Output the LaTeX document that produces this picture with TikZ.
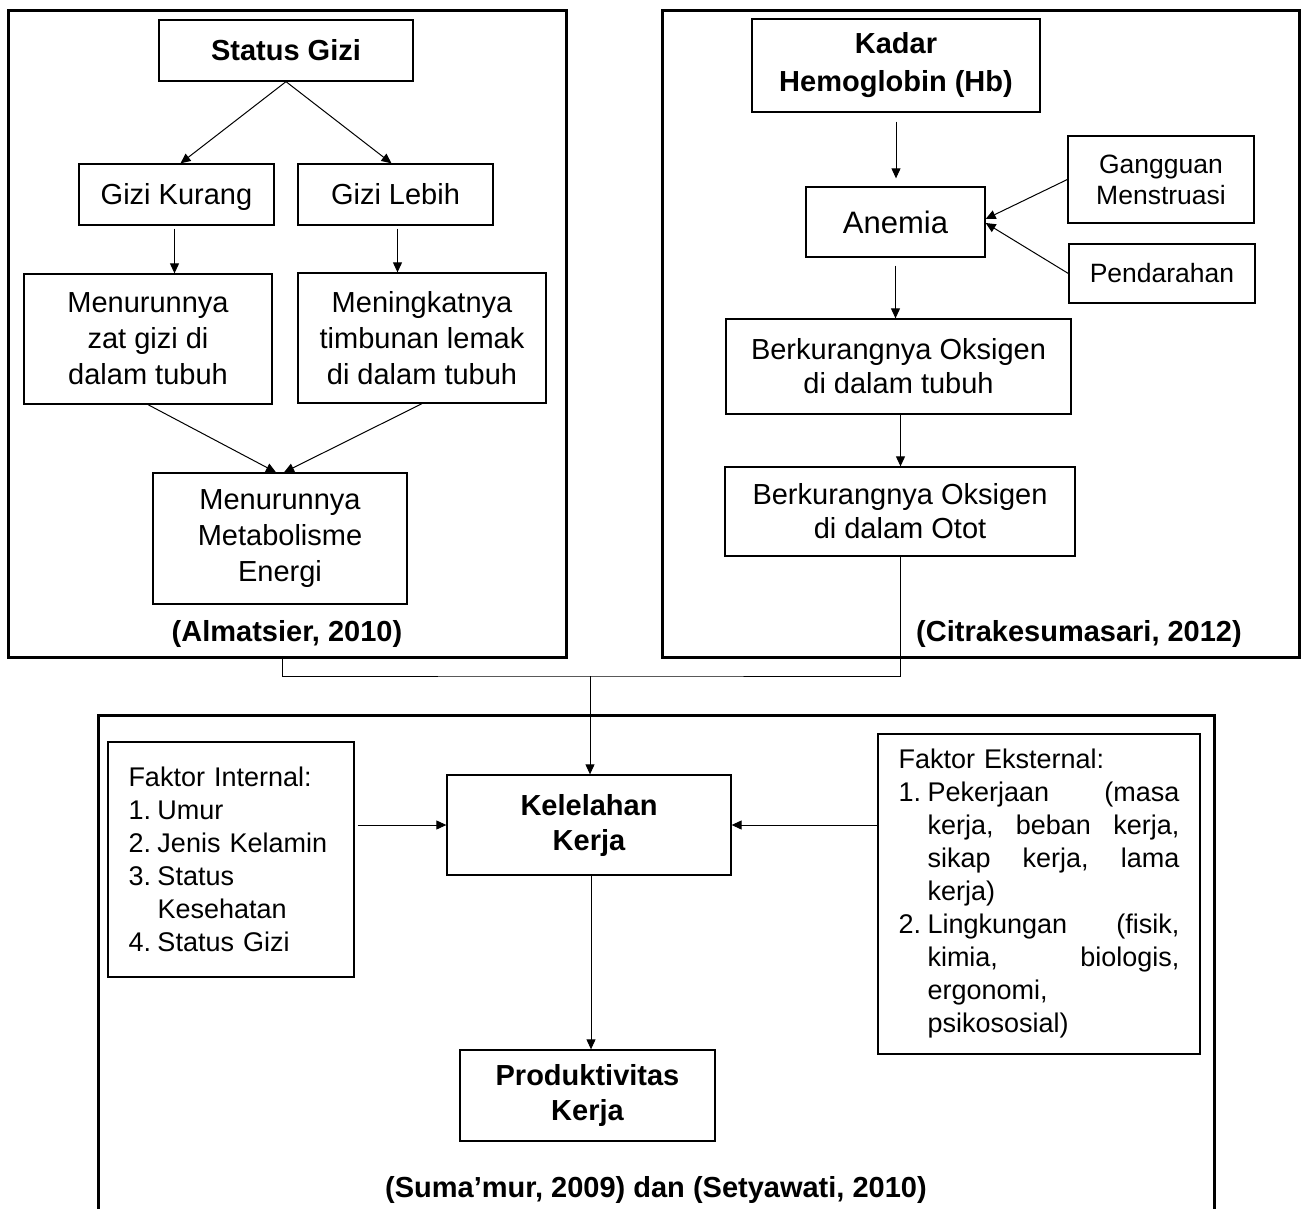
\documentclass[tikz,border=0pt]{standalone}
\usepackage{fontspec}
\setmainfont{Liberation Sans}
\usepackage{tikz}
\usetikzlibrary{arrows.meta,positioning,calc}
\newcommand{\nomor}[1]{\makebox[14.5pt][l]{#1}}
\newcommand{\rata}[1]{\makebox[126pt][s]{#1}}

\begin{document}
\begin{tikzpicture}[x=0.5pt,y=-0.5pt,
  frame/.style={draw,line width=1.5pt,inner sep=0pt},
  box/.style={draw,line width=0.65pt,align=center,inner sep=0pt,font=\fontsize{14.5}{17.5}\selectfont},
  bbox/.style={box,font=\bfseries\fontsize{14.5}{18.5}\selectfont},
  sbox/.style={box,font=\fontsize{13.25}{15.5}\selectfont},
  listbox/.style={draw,line width=0.65pt,align=left,inner xsep=10.25pt,inner ysep=0pt,font=\fontsize{13.5}{16.5}\selectfont},
  cite/.style={font=\bfseries\fontsize{14.5}{17.5}\selectfont,inner sep=0pt},
  arrow/.style={-{Triangle[length=5pt,width=4.5pt]},line width=0.5pt}
]
\useasboundingbox (0,0) rectangle (1302,1209);
% frames
\node[frame,minimum width=279pt,minimum height=323pt] (kiri) at (287,334) {};
\node[frame,minimum width=318.5pt,minimum height=323pt] (kanan) at (980.5,334) {};
\node[frame,minimum width=558pt,minimum height=257.5pt] (bawah) at (656,972.5) {};
% left: status gizi
\node[bbox,minimum width=127pt,minimum height=30.5pt] (gizi) at (286,50.5) {Status Gizi};
\node[box,minimum width=97.5pt,minimum height=30.5pt,text height=12pt,text depth=1.6pt] (kurang) at (176.5,194.5) {Gizi Kurang};
\node[box,minimum width=97.5pt,minimum height=30.5pt,text height=12pt,text depth=1.6pt] (lebih) at (395.5,194.5) {Gizi Lebih};
\node[box,minimum width=124pt,minimum height=65pt,font=\fontsize{14.5}{18}\selectfont] (turunzat) at (148,339) {Menurunnya\\zat gizi di\\dalam tubuh};
\node[box,minimum width=124pt,minimum height=65pt,font=\fontsize{14.5}{18}\selectfont] (naiklemak) at (422,338) {Meningkatnya\\timbunan lemak\\di dalam tubuh};
\node[box,minimum width=127pt,minimum height=65.5pt,font=\fontsize{14.5}{18}\selectfont] (metabolisme) at (280,538.5) {Menurunnya\\Metabolisme\\Energi};
\node[cite] (almatsier) at (287,634) {(Almatsier, 2010)};
% right: hemoglobin
\node[bbox,minimum width=144pt,minimum height=46.5pt,font=\bfseries\fontsize{14.5}{19}\selectfont] (hb) at (896,65.5) {Kadar\\Hemoglobin (Hb)};
\node[box,minimum width=89.5pt,minimum height=35pt,font=\fontsize{15.5}{18}\selectfont] (anemia) at (895.5,222) {Anemia};
\node[sbox,minimum width=93pt,minimum height=43.5pt] (gangguan) at (1161,179.5) {Gangguan\\Menstruasi};
\node[sbox,minimum width=93pt,minimum height=29.5pt] (darah) at (1162,273.5) {Pendarahan};
\node[box,minimum width=172.5pt,minimum height=47.5pt,font=\fontsize{14.5}{17}\selectfont] (oksigentubuh) at (898.5,366.5) {Berkurangnya Oksigen\\di dalam tubuh};
\node[box,minimum width=175pt,minimum height=44.5pt,font=\fontsize{14.5}{17}\selectfont] (oksigenotot) at (900,511.5) {Berkurangnya Oksigen\\di dalam Otot};
\node[cite] (citra) at (1079,634) {(Citrakesumasari, 2012)};
% bottom: kelelahan kerja
\node[listbox,text width=102.5pt,minimum height=117.5pt] (internal) at (231,859.5) {Faktor Internal:\\
\nomor{1.}Umur\\
\nomor{2.}Jenis Kelamin\\
\nomor{3.}Status\\
\nomor{}Kesehatan\\
\nomor{4.}Status Gizi};
\node[bbox,minimum width=142pt,minimum height=50pt,font=\bfseries\fontsize{14.5}{17.5}\selectfont] (lelah) at (589,825) {Kelelahan\\Kerja};
\node[listbox,text width=140.5pt,minimum height=160pt] (eksternal) at (1039,894) {Faktor Eksternal:\\
\nomor{1.}\rata{Pekerjaan\hfill(masa}\\
\nomor{}\rata{kerja,\hfill beban\hfill kerja,}\\
\nomor{}\rata{sikap\hfill kerja,\hfill lama}\\
\nomor{}kerja)\\
\nomor{2.}\rata{Lingkungan\hfill(fisik,}\\
\nomor{}\rata{kimia,\hfill biologis,}\\
\nomor{}ergonomi,\\
\nomor{}psikososial)};
\node[bbox,minimum width=127.5pt,minimum height=45.5pt,font=\bfseries\fontsize{14.5}{17.5}\selectfont] (produktif) at (587.5,1095.5) {Produktivitas\\Kerja};
\node[cite] (sumamur) at (656,1190) {(Suma’mur, 2009) dan (Setyawati, 2010)};
% arrows
\draw[arrow] (gizi.south) -- ([xshift=2pt]kurang.north);
\draw[arrow] (gizi.south) -- ([xshift=-2pt]lebih.north);
\draw[arrow,shorten <=1.5pt] ([xshift=-1pt]kurang.south) -- ([xshift=-1pt]kurang.south |- turunzat.north);
\draw[arrow,shorten <=1.5pt] ([xshift=1pt]lebih.south) -- ([xshift=1pt]lebih.south |- naiklemak.north);
\draw[arrow] (turunzat.south) -- ([xshift=-2pt]metabolisme.north);
\draw[arrow] (naiklemak.south) -- ([xshift=2pt]metabolisme.north);
\draw[arrow,shorten <=4.5pt,shorten >=4pt] (hb.south) -- (hb.south |- anemia.north);
\draw[arrow] (gangguan.west) -- ([yshift=1.5pt]anemia.east);
\draw[arrow] (darah.west) -- ([yshift=-0.5pt]anemia.east);
\draw[arrow,shorten <=4pt] (anemia.south) -- (anemia.south |- oksigentubuh.north);
\draw[arrow] ([xshift=1pt]oksigentubuh.south) -- ([xshift=1pt]oksigentubuh.south |- oksigenotot.north);
\coordinate (temu) at (590,676);
\draw[line width=0.5pt] ([xshift=-2.5pt]kiri.south) |- (temu) -| (oksigenotot.south);
\draw[arrow] (temu) -- (temu |- lelah.north);
\draw[arrow,shorten <=1.5pt] (internal.east |- lelah.west) -- (lelah.west);
\draw[arrow] (eksternal.west |- lelah.east) -- (lelah.east);
\draw[arrow] ([xshift=1pt]lelah.south) -- ([xshift=1pt]lelah.south |- produktif.north);
\end{tikzpicture}
\end{document}
